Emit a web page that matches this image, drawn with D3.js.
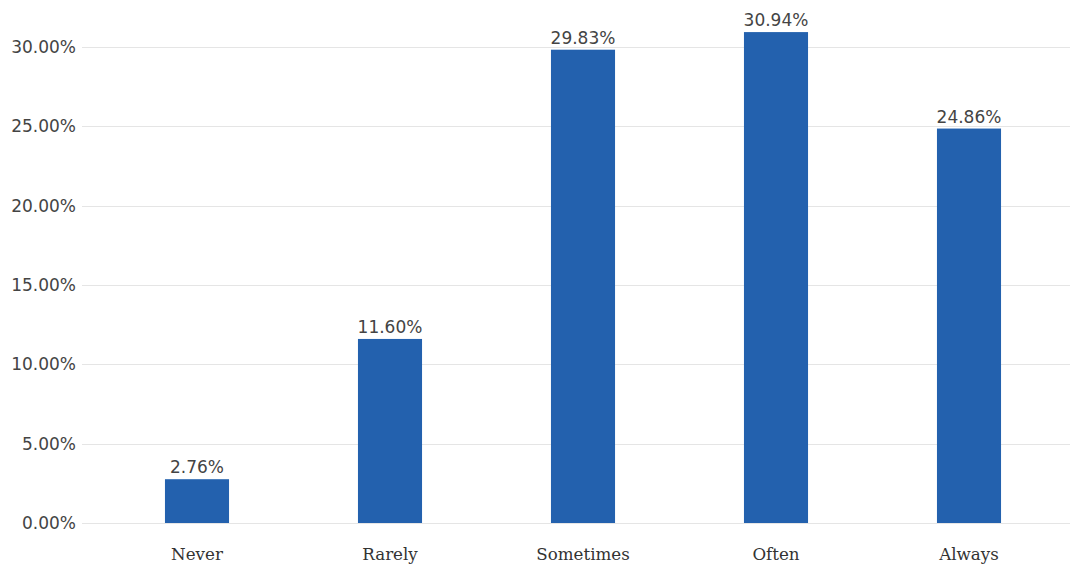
<!DOCTYPE html>
<html><head><meta charset="utf-8">
<script src="https://cdn.jsdelivr.net/npm/d3@7"></script>
<style>body{margin:0;background:#fff}svg{display:block}</style>
</head><body>
<svg id="c" width="1070" height="565"></svg>
<script>
const categories = ["Never", "Rarely", "Sometimes", "Often", "Always"];
const values = [2.76, 11.60, 29.83, 30.94, 24.86];
const yTicks = [0, 5, 10, 15, 20, 25, 30];

const svg = d3.select("#c");
const x = d3.scaleBand().domain(categories).range([100.5, 1065.5]).paddingInner(0.668).paddingOuter(0.334);
const y = d3.scaleLinear().domain([0, 30]).range([523, 47]);

svg.append("g").selectAll("line").data(yTicks).join("line")
  .attr("x1", 82).attr("x2", 1070)
  .attr("y1", d => Math.round(y(d)) + 0.5).attr("y2", d => Math.round(y(d)) + 0.5)
  .attr("stroke", "#e5e5e5").attr("stroke-width", 1);

svg.append("g").selectAll("text").data(yTicks).join("text")
  .attr("x", 76).attr("y", d => y(d)).attr("dy", "0.36em")
  .attr("text-anchor", "end")
  .attr("font-family", "DejaVu Sans").attr("font-size", 17).attr("fill", "#444")
  .text(d => d.toFixed(2) + "%");

svg.append("g").selectAll("rect").data(values).join("rect")
  .attr("x", (d, i) => x(categories[i])).attr("width", x.bandwidth())
  .attr("y", d => y(d)).attr("height", d => y(0) - y(d))
  .attr("fill", "#2361ae");

svg.append("g").selectAll("text").data(values).join("text")
  .attr("x", (d, i) => x(categories[i]) + x.bandwidth() / 2)
  .attr("y", d => y(d) - 6)
  .attr("text-anchor", "middle")
  .attr("font-family", "DejaVu Sans").attr("font-size", 17).attr("fill", "#444")
  .text(d => d.toFixed(2) + "%");

svg.append("g").selectAll("text").data(categories).join("text")
  .attr("x", d => x(d) + x.bandwidth() / 2).attr("y", 560)
  .attr("text-anchor", "middle")
  .attr("font-family", "DejaVu Serif").attr("font-size", 16.7).attr("fill", "#333")
  .text(d => d);
</script>
</body></html>
